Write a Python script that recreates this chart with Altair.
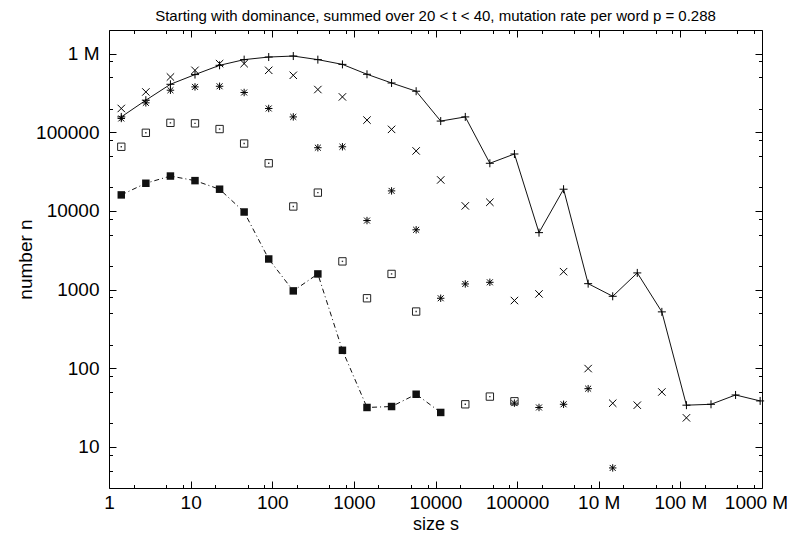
import json
import altair as alt
import pandas as pd

FONT = "Liberation Sans"

# ---------------- data ----------------
sizes = [1.414, 2.828, 5.657, 11.31, 22.63, 45.25, 90.51, 181.0, 362.0, 724.1,
         1448, 2896, 5793, 11585, 23170, 46341, 92682, 185364, 370728, 741455,
         1482910, 2965821, 5931642, 11863283, 23726566, 47453133, 94906266]

plus_n = [157000, 256000, 408000, 542000, 711000, 840000, 906000, 933000, 840000, 731000,
          547000, 424000, 333000, 139000, 157000, 40400, 53000, 5300, 18900, 1190,
          822, 1630, 521, 33.9, 34.8, 45.7, 38.4]
cross_n = [201000, 326000, 505000, 614000, 747000, 747000, 614000, 531000, 350000, 282000,
           143000, 109000, 58000, 24800, 11600, 12900, 726, 881, 1690, 99,
           35.9, 33.9, 49.9, 23.4, None, None, None]
star_n = [150000, 237000, 343000, 378000, 385000, 321000, 201000, 157000, 63700, 65500,
          7550, 18000, 5760, 776, 1180, 1238, 36, 31.7, 34.8, 55,
          5.4, None, None, None, None, None, None]
box_n = [65500, 98600, 132000, 130000, 110000, 72000, 40400, 11400, 17100, 2285,
         776, 1582, 526, None, 34.8, 43.6, 38, None, None, None,
         None, None, None, None, None, None, None]
fill_n = [16000, 22500, 27800, 24300, 18900, 9700, 2450, 963, 1582, 169,
          31.7, 32.6, 46.7, 27.4, None, None, None, None, None, None,
          None, None, None, None, None, None, None]

# ---------------- tick values / labels ----------------
x_major = [1, 10, 100, 1000, 10000, 100000, 1000000, 10000000, 100000000]
x_major_labels = ["1", "10", "100", "1000", "10000", "100000", "10 M", "100 M", "1000 M"]
x_minor = [2, 5, 8, 20, 50, 80, 200, 500, 800, 2000, 5000, 8000, 20000, 50000, 80000,
           200000, 500000, 800000, 2000000, 5000000, 8000000, 20000000, 50000000, 80000000]
y_major = [10, 100, 1000, 10000, 100000, 1000000]
y_major_labels = ["10", "100", "1000", "10000", "100000", "1 M"]
y_minor = [5, 8, 20, 50, 80, 200, 500, 800, 2000, 5000, 8000, 20000, 50000, 80000,
           200000, 500000, 800000]

title_text = "Starting with dominance, summed over 20 < t < 40, mutation rate per word p = 0.288"


def frame(ns):
    pairs = [(s, n) for s, n in zip(sizes, ns) if n is not None]
    return pd.DataFrame({"size": [p[0] for p in pairs], "n": [p[1] for p in pairs]})


xs = alt.Scale(type="log", domain=[0.9999, 100010000], nice=False)
ys = alt.Scale(type="log", domain=[3, 2000000], nice=False)


def lab_expr(vals, labs):
    return f"{json.dumps(labs)}[indexof({json.dumps(vals)}, datum.value)]"


ax_x_lab = alt.Axis(orient="bottom", values=x_major, labelExpr=lab_expr(x_major, x_major_labels),
                    ticks=False, tickSize=0, domain=False, grid=False, labelOverlap=False,
                    labelFlush=False,
                    labelFont=FONT, labelFontSize=19, labelColor="black",
                    labelBaseline="alphabetic", labelPadding=20.5,
                    labelOffset={"condition": {"test": "datum.value >= 100000000", "value": -6}, "value": 0},
                    title="size s", titleFont=FONT, titleFontSize=18, titleFontWeight="normal",
                    titleColor="black", titleBaseline="alphabetic", titleY=41)
ax_y_lab = alt.Axis(orient="left", values=y_major, labelExpr=lab_expr(y_major, y_major_labels),
                    ticks=False, tickSize=0, domain=False, grid=False, labelOverlap=False,
                    labelFlush=False,
                    labelFont=FONT, labelFontSize=19, labelColor="black", labelPadding=10,
                    title="number n", titleFont=FONT, titleFontSize=19, titleFontWeight="normal",
                    titleColor="black", titleBaseline="alphabetic", titleAngle=270,
                    titleAlign="center", titleX=-78, titleY=229)


def tick_axis(orient, vals, size):
    return alt.Axis(orient=orient, values=vals, labels=False, ticks=True, tickSize=size,
                    offset=-size, domain=False, grid=False, title=None,
                    tickColor="black", tickWidth=1)


def enc(ax_x, ax_y):
    return dict(x=alt.X("size:Q", scale=xs, axis=ax_x), y=alt.Y("n:Q", scale=ys, axis=ax_y))


PLUS = "M-1,0L1,0M0,-1L0,1"
CROSS = "M-1,-1L1,1M-1,1L1,-1"
STAR = "M-1,0L1,0M0,-1L0,1M-0.8,-0.8L0.8,0.8M-0.8,0.8L0.8,-0.8"

plus_line = alt.Chart(frame(plus_n)).mark_line(color="#111111", strokeWidth=1).encode(
    **enc(ax_x_lab, ax_y_lab))
plus_pts = alt.Chart(frame(plus_n)).mark_point(
    shape=PLUS, filled=False, size=64, stroke="black", strokeWidth=1, opacity=1).encode(
    **enc(tick_axis("bottom", x_major, 7), tick_axis("left", y_major, 7)))
cross_pts = alt.Chart(frame(cross_n)).mark_point(
    shape=CROSS, filled=False, size=55, stroke="black", strokeWidth=1, opacity=1).encode(
    **enc(tick_axis("bottom", x_minor, 3.5), tick_axis("left", y_minor, 3.5)))
star_pts = alt.Chart(frame(star_n)).mark_point(
    shape=STAR, filled=False, size=55, stroke="black", strokeWidth=1, opacity=1).encode(
    **enc(tick_axis("top", x_major, 7), tick_axis("right", y_major, 7)))
box_pts = alt.Chart(frame(box_n)).mark_point(
    shape="square", filled=False, size=54, stroke="#222222", strokeWidth=1, opacity=1).encode(
    **enc(tick_axis("top", x_minor, 3.5), tick_axis("right", y_minor, 3.5)))
box_dots = alt.Chart(frame(box_n)).mark_point(
    shape="square", filled=True, size=2, color="#333333", opacity=1).encode(
    **enc(None, None))
fill_line = alt.Chart(frame(fill_n)).mark_line(
    color="#111111", strokeWidth=1, strokeDash=[5, 3, 1, 3]).encode(**enc(None, None))
fill_pts = alt.Chart(frame(fill_n)).mark_point(
    shape="square", filled=True, size=56, color="#111111", opacity=1).encode(**enc(None, None))

chart = alt.layer(
    plus_line, fill_line, plus_pts, cross_pts, star_pts, box_pts, box_dots, fill_pts
).resolve_axis(
    x="independent", y="independent"
).properties(
    width=653, height=458,
    autosize=alt.AutoSizeParams(type="none"),
    padding={"left": 101, "top": 22, "right": 28, "bottom": 44},
    title=alt.Title(text=title_text, font=FONT, fontSize=15, fontWeight="normal",
                    color="black", anchor="middle", frame="group", offset=6),
).configure_view(
    stroke="black", strokeWidth=1
).configure_axis(
    grid=False
)

chart.save("out.html", embed_options={"renderer": "svg", "actions": False})
